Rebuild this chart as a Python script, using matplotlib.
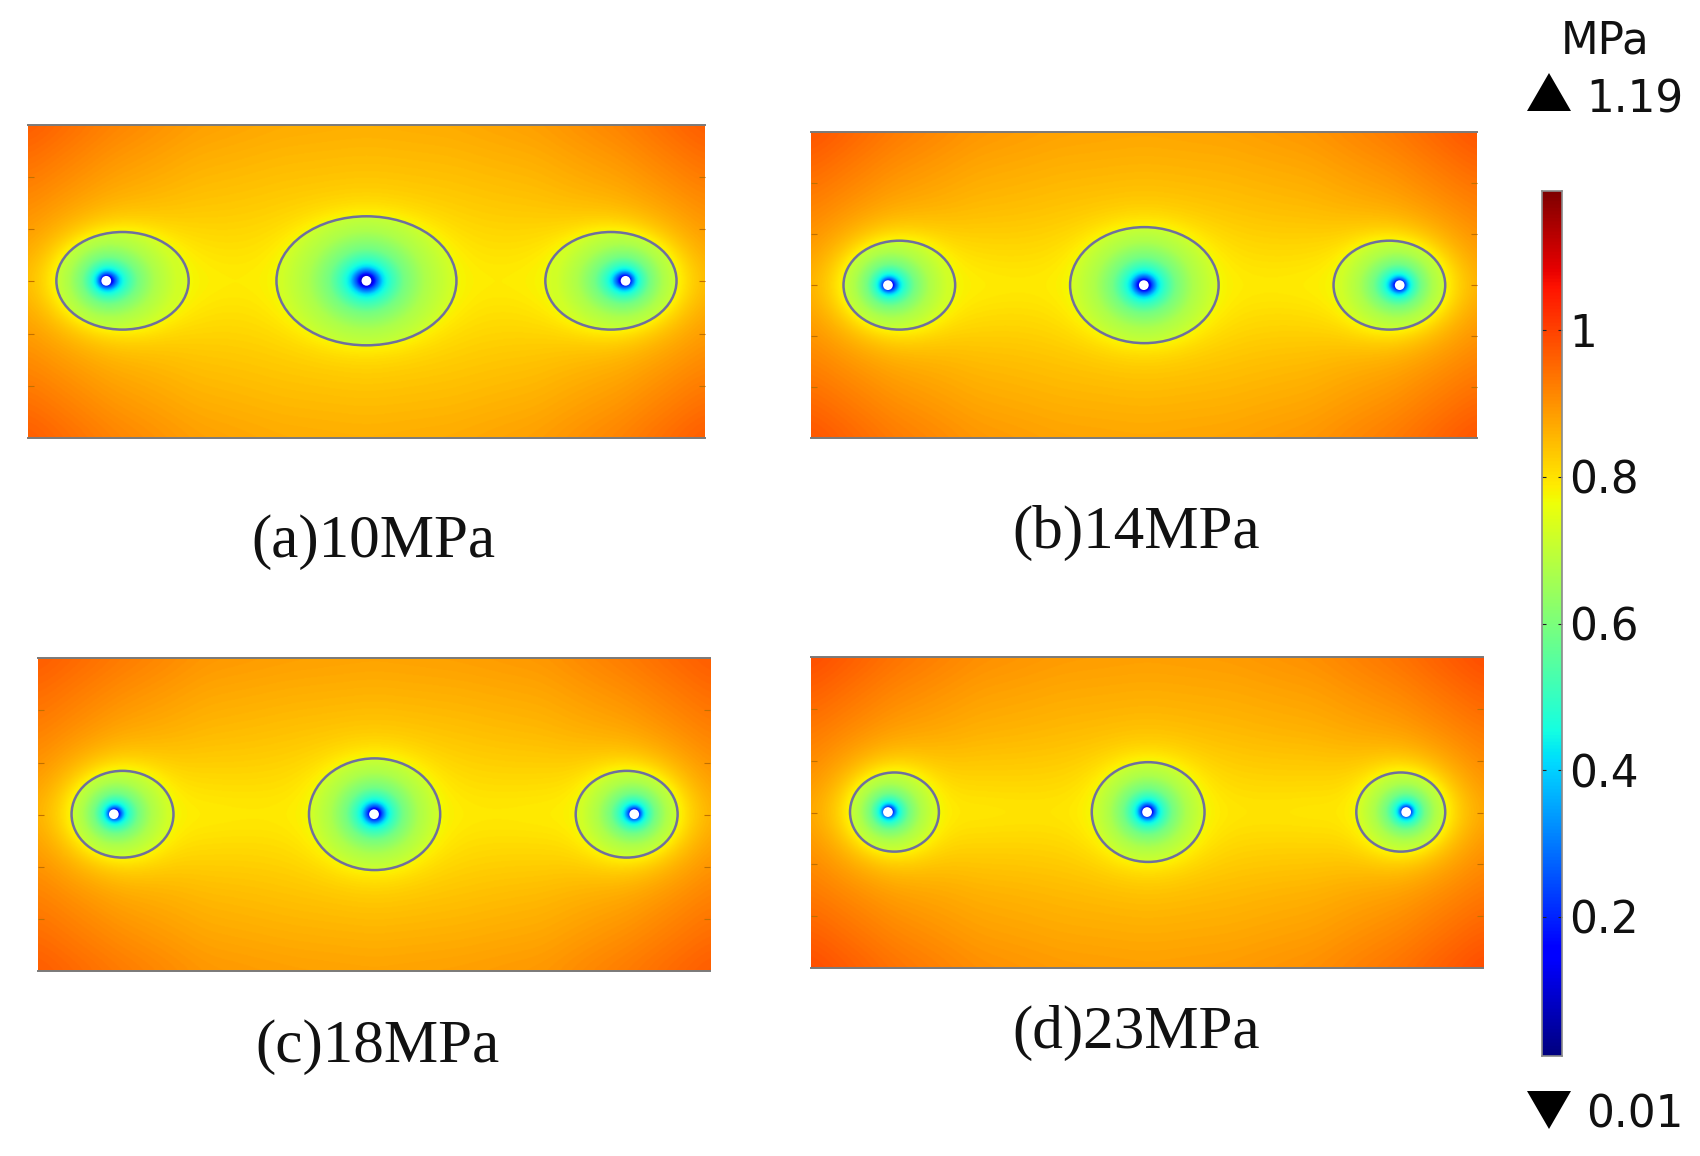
import numpy as np
import matplotlib
matplotlib.use("Agg")
import matplotlib.pyplot as plt
from matplotlib.patches import Ellipse, Polygon

# ---- data ----
panel_labels = ["(a)10MPa", "(b)14MPa", "(c)18MPa", "(d)23MPa"]
x_extent = [(26, 650), (748, 1362), (35, 655), (748, 1368)]
y_extent = [(115, 404), (122, 404), (607, 896), (606, 893)]
well_x = [[98, 338, 577], [819, 1055, 1291], [105, 345, 585], [819, 1058, 1297]]
well_y = [259, 263, 751, 749]
zone_x_lo = [[52, 255, 503], [778, 987, 1230], [66, 285, 531], [784, 1007, 1251]]
zone_x_hi = [[174, 421, 624], [881, 1124, 1333], [160, 406, 625], [866, 1111, 1333]]
zone_half_h = [[45, 59.5, 45], [41, 53.5, 41], [40, 51.5, 40], [36.5, 46, 36.5]]

# stress (MPa) on a coarse 5 x 9 grid across each panel
stress_a = [[.97, .92, .885, .87, .865, .87, .885, .92, .97],
            [.91, .865, .84, .83, .825, .83, .84, .865, .91],
            [.86, .80, .785, .79, .79, .79, .785, .80, .86],
            [.91, .865, .84, .83, .825, .83, .84, .865, .91],
            [.97, .92, .885, .87, .865, .87, .885, .92, .97]]
stress_b = [[.98, .93, .895, .88, .875, .88, .895, .93, .98],
            [.92, .875, .85, .84, .835, .84, .85, .875, .92],
            [.87, .80, .785, .79, .79, .79, .785, .80, .87],
            [.92, .875, .85, .84, .835, .84, .85, .875, .92],
            [.98, .93, .895, .88, .875, .88, .895, .93, .98]]
stress_c = [[.97, .93, .895, .885, .88, .885, .895, .93, .97],
            [.92, .875, .85, .84, .835, .84, .85, .875, .92],
            [.87, .80, .785, .79, .79, .79, .785, .80, .87],
            [.92, .875, .85, .84, .835, .84, .85, .875, .92],
            [.97, .93, .895, .885, .88, .885, .895, .93, .97]]
stress_d = [[.99, .94, .905, .89, .885, .89, .905, .94, .99],
            [.93, .885, .86, .85, .845, .85, .86, .885, .93],
            [.88, .81, .79, .795, .795, .795, .79, .81, .88],
            [.93, .885, .86, .85, .845, .85, .86, .885, .93],
            [.99, .94, .905, .89, .885, .89, .905, .94, .99]]
stress_grids = [stress_a, stress_b, stress_c, stress_d]

# stress against relative distance from a well, inside the zone
profile_t = [0.0, 0.06, 0.12, 0.2, 0.3, 0.45, 0.7, 1.0, 1.2]
profile_v = [0.04, 0.08, 0.25, 0.42, 0.50, 0.59, 0.67, 0.72, 0.73]
halo_value = 0.77

cbar_min, cbar_max = 0.01, 1.19
cbar_ticks = [0.2, 0.4, 0.6, 0.8, 1.0]
cbar_ticklabels = ["0.2", "0.4", "0.6", "0.8", "1"]
unit_label = "MPa"

# ---- layout ----
W, H = 1700, 1156
S = W / 1568.0
fig = plt.figure(figsize=(W / 100, H / 100), dpi=100, facecolor="white")
label_pos = [(344, 500), (1048, 492), (348, 966), (1048, 953)]


def make_field(k):
    x0, x1 = x_extent[k]
    y0, y1 = y_extent[k]
    nx, ny = int((x1 - x0) * 1.5), int((y1 - y0) * 1.5)
    xs = np.linspace(x0, x1, nx)
    ys = np.linspace(y0, y1, ny)
    X, Y = np.meshgrid(xs, ys)
    grid = np.array(stress_grids[k])
    gx = np.linspace(x0, x1, grid.shape[1])
    gy = np.linspace(y0, y1, grid.shape[0])
    # bilinear upsample, then smooth
    tmp = np.array([np.interp(xs, gx, r) for r in grid])
    F = np.array([np.interp(ys, gy, c) for c in tmp.T]).T
    pad = 40
    ker = np.hanning(2 * pad + 1)
    ker /= ker.sum()
    Fp = np.pad(F, pad, mode="edge")
    Fp = np.apply_along_axis(lambda m: np.convolve(m, ker, mode="same"), 0, Fp)
    Fp = np.apply_along_axis(lambda m: np.convolve(m, ker, mode="same"), 1, Fp)
    F = Fp[pad:-pad, pad:-pad]
    wy = well_y[k]
    for wx, lo, hi, b in zip(well_x[k], zone_x_lo[k], zone_x_hi[k], zone_half_h[k]):
        cx, a = (lo + hi) / 2, (hi - lo) / 2
        d = np.sqrt(((X - cx) / a) ** 2 + ((Y - wy) / b) ** 2)
        mean_r = (a + b) / 2
        # halo outside the zone
        dist = np.clip(d - 1, 0, None) * mean_r
        F = F + (halo_value - F) * np.exp(-dist / 14.0)
        # inside the zone
        dx, dy = X - wx, Y - wy
        r = np.hypot(dx, dy) + 1e-6
        ux, uy = dx / r, dy / r
        A = (ux / a) ** 2 + (uy / b) ** 2
        px = (wx - cx) / a
        B = 2 * px * ux / a
        C = px ** 2 - 1
        s = (-B + np.sqrt(B ** 2 - 4 * A * C)) / (2 * A)
        t = r / (0.5 * s + 0.5 * mean_r)
        inside = np.interp(t, profile_t, profile_v)
        F = np.where(d < 1, inside, F)
    return F


for k in range(4):
    x0, x1 = x_extent[k]
    y0, y1 = y_extent[k]
    ax = fig.add_axes([x0 * S / W, 1 - y1 * S / H, (x1 - x0) * S / W, (y1 - y0) * S / H])
    ax.imshow(make_field(k), extent=[x0, x1, y1, y0], aspect="auto", cmap="jet",
              vmin=cbar_min, vmax=cbar_max, interpolation="bilinear")
    wy = well_y[k]
    for wx, lo, hi, b in zip(well_x[k], zone_x_lo[k], zone_x_hi[k], zone_half_h[k]):
        ax.add_patch(Ellipse(((lo + hi) / 2, wy), hi - lo, 2 * b, fill=False,
                             ec="#6f6f9e", lw=1.8))
        ax.add_patch(Ellipse((wx, wy), 9, 9, fc="white", ec="none"))
    for sp in ["left", "right"]:
        ax.spines[sp].set_visible(False)
    for sp in ["top", "bottom"]:
        ax.spines[sp].set_color("#7a7a7a")
        ax.spines[sp].set_linewidth(1.4)
    ax.set_xticks([])
    ax.set_yticks(np.linspace(y0, y1, 7)[1:-1])
    ax.set_yticklabels([])
    ax.tick_params(axis="y", direction="in", length=4, width=0.8, color="#c07000",
                   left=True, right=True)
    fig.text(label_pos[k][0] * S / W, 1 - label_pos[k][1] * S / H, panel_labels[k],
             family="Liberation Serif", fontsize=44, ha="center", va="center", color="#111111")

# colour bar
cax = fig.add_axes([1542 / W, 1 - 1056 / H, 20 / W, 865 / H])
vals = np.linspace(cbar_max, cbar_min, 512)[:, None]
cax.imshow(vals, extent=[0, 1, cbar_min, cbar_max], aspect="auto", cmap="jet",
           vmin=cbar_min, vmax=cbar_max)
cax.set_xticks([])
cax.yaxis.tick_right()
cax.set_yticks(cbar_ticks)
cax.set_yticklabels(cbar_ticklabels, family="DejaVu Sans", fontsize=31.5, color="#111111")
for lab in cax.get_yticklabels():
    lab.set_y(lab.get_position()[1])
cax.tick_params(axis="y", direction="in", length=3, width=0.8, left=True, right=True,
                color="#222222", pad=5)
for sp in cax.spines.values():
    sp.set_color("#8a8a8a")
    sp.set_linewidth(1.2)

# range markers and unit
ov = fig.add_axes([0, 0, 1, 1], facecolor="none")
ov.set_xlim(0, W)
ov.set_ylim(H, 0)
ov.axis("off")
ov.add_patch(Polygon([(1527, 111), (1571, 111), (1549, 73)], fc="black", ec="none"))
ov.add_patch(Polygon([(1527, 1091), (1571, 1091), (1549, 1129)], fc="black", ec="none"))
ov.text(1605, 41, unit_label, family="DejaVu Sans", fontsize=31.5, ha="center", va="center", color="#111111")
ov.text(1586, 100, f"{cbar_max:.2f}", family="DejaVu Sans", fontsize=31.5, ha="left", va="center", color="#111111")
ov.text(1586, 1115, f"{cbar_min:.2f}", family="DejaVu Sans", fontsize=31.5, ha="left", va="center", color="#111111")

fig.savefig("out.png", dpi=100, facecolor="white")
